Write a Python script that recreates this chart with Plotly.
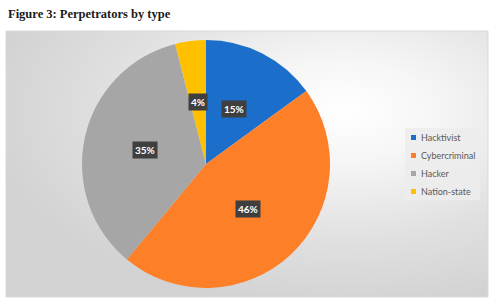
import math
import urllib.parse
import plotly.graph_objects as go

# ---- data ----
categories = ["Hacktivist", "Cybercriminal", "Hacker", "Nation-state"]
values = [15, 46, 35, 4]
colors = ["#1b6fcb", "#fd7f27", "#a6a6a6", "#ffc000"]
title_text = "Figure 3: Perpetrators by type"

W, H = 496, 304
# pie geometry (pixels)
CX, CY, R = 206, 164, 124

def px(x):
    return x / W

def py(y):
    return (H - y) / H

fig = go.Figure()
fig.add_trace(go.Pie(
    labels=categories, values=values, sort=False, direction="clockwise",
    rotation=0, marker=dict(colors=colors, line=dict(width=0)),
    textinfo="none", hoverinfo="label+percent", showlegend=False,
    domain=dict(x=[px(CX - R), px(CX + R)], y=[py(CY + R), py(CY - R)]),
))

annotations = []
# data labels in dark boxes, placed at half-radius along slice mid-angle
total = sum(values)
cum = 0
for cat, v in zip(categories, values):
    mid = (cum + v / 2) / total * 2 * math.pi
    cum += v
    lx = CX + 0.5 * R * math.sin(mid)
    ly = CY - 0.5 * R * math.cos(mid)
    annotations.append(dict(
        x=px(lx), y=py(ly), xref="paper", yref="paper", showarrow=False,
        text=f"<b>{round(v / total * 100)}%</b>", bgcolor="#3f3f3f",
        borderpad=2, font=dict(family="Lato, Open Sans, sans-serif", size=10, color="white"),
        xanchor="center", yanchor="middle"))

# title
annotations.append(dict(
    x=px(6), y=py(14), xref="paper", yref="paper", showarrow=False,
    text=f"<b>{title_text}</b>", xanchor="left", yanchor="middle",
    font=dict(family="Liberation Serif, serif", size=12.5, color="#1a1a1a")))

shapes = []
# chart border
shapes.append(dict(type="rect", xref="paper", yref="paper",
                   x0=px(6), x1=px(488), y0=py(297), y1=py(31),
                   line=dict(color="#d9d9d9", width=1), fillcolor="rgba(0,0,0,0)", layer="below"))
# legend box
shapes.append(dict(type="rect", xref="paper", yref="paper",
                   x0=px(405), x1=px(480), y0=py(200), y1=py(128),
                   line=dict(width=0), fillcolor="rgba(236,236,236,0.85)", layer="below"))
# custom legend
for i, (cat, col) in enumerate(zip(categories, colors)):
    yc = 137 + i * 18
    shapes.append(dict(type="rect", xref="paper", yref="paper",
                       x0=px(411), x1=px(416), y0=py(yc + 3), y1=py(yc - 2),
                       line=dict(width=0), fillcolor=col, layer="above"))
    annotations.append(dict(
        x=px(419), y=py(yc), xref="paper", yref="paper", showarrow=False,
        text=cat, xanchor="left", yanchor="middle",
        font=dict(family="Lato, Open Sans, sans-serif", size=9, color="#595959")))

svg = (
    "<svg xmlns='http://www.w3.org/2000/svg' width='482' height='266' viewBox='0 0 482 266' preserveAspectRatio='none'>"
    "<defs><radialGradient id='g' cx='0.70' cy='0.30' r='0.75' gradientUnits='objectBoundingBox'>"
    "<stop offset='0' stop-color='#ffffff'/><stop offset='0.25' stop-color='#f6f6f6'/>"
    "<stop offset='0.65' stop-color='#e0e0e0'/><stop offset='1' stop-color='#d2d2d2'/>"
    "</radialGradient></defs><rect width='482' height='266' fill='url(#g)'/></svg>"
)
src = "data:image/svg+xml;charset=utf-8," + urllib.parse.quote(svg)

fig.update_layout(
    width=W, height=H, margin=dict(l=0, r=0, t=0, b=0),
    paper_bgcolor="white", plot_bgcolor="white",
    annotations=annotations, shapes=shapes,
    images=[dict(source=src, xref="paper", yref="paper", x=px(6), y=py(31),
                 sizex=482 / W, sizey=266 / H, xanchor="left", yanchor="top",
                 sizing="stretch", layer="below")],
)
fig.write_html("out.html", config={"displayModeBar": False},
               post_script="document.body.style.margin='0';document.body.style.padding='0';")
